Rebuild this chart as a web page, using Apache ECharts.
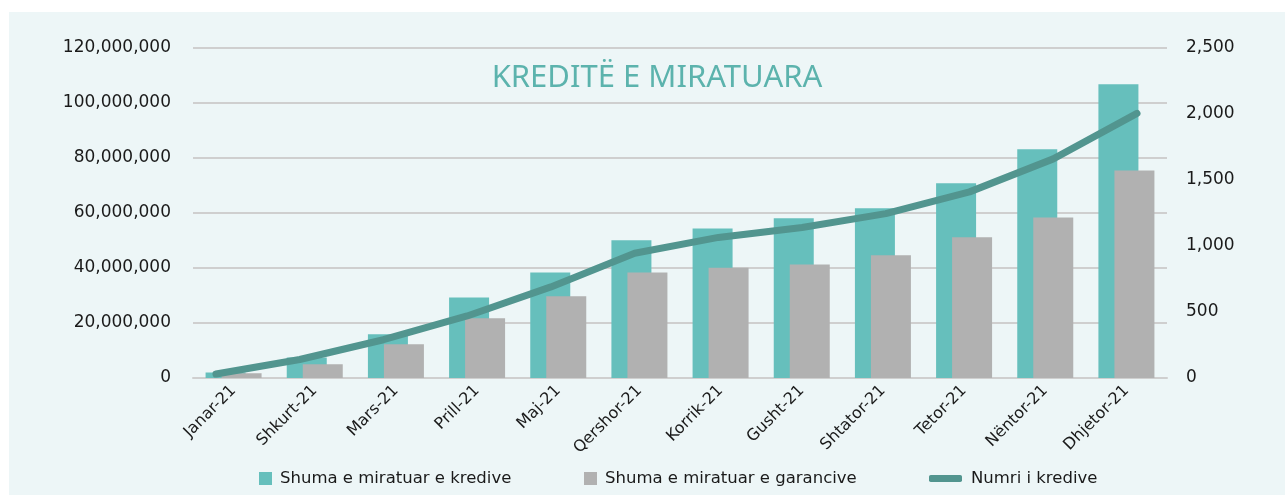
<!DOCTYPE html>
<html lang="sq">
<head>
    <meta charset="UTF-8">
    <title>Kreditë e miratuara</title>
    <style>
        html, body {
            margin: 0;
            padding: 0;
            background: #ffffff;
        }
    </style>
</head>
<body>
<script src="https://cdn.jsdelivr.net/npm/echarts@6/dist/echarts.min.js"></script>
<div id="main" style="width: 1285px;height:495px;"></div>
<script>
    // te dhenat
    var muajt = ['Janar-21', 'Shkurt-21', 'Mars-21', 'Prill-21', 'Maj-21', 'Qershor-21',
        'Korrik-21', 'Gusht-21', 'Shtator-21', 'Tetor-21', 'Nëntor-21', 'Dhjetor-21'];
    var shumaKredive = [2000000, 7500000, 15900000, 29300000, 38400000, 50100000,
        54400000, 58100000, 61700000, 70800000, 83200000, 106800000];
    var shumaGarancive = [1700000, 5000000, 12300000, 21700000, 29700000, 38400000,
        40100000, 41300000, 44600000, 51200000, 58400000, 75500000];
    var numriKredive = [30, 140, 290, 470, 690, 945, 1065, 1140, 1245, 1410, 1660, 2005];

    var leftTicks = [0, 20000000, 40000000, 60000000, 80000000, 100000000, 120000000];
    var rightTicks = [0, 500, 1000, 1500, 2000, 2500];

    var emrat = ['Shuma e miratuar e kredive', 'Shuma e miratuar e garancive', 'Numri i kredive'];

    var fontFamily = 'DejaVu Sans';
    var withCommas = function (v) {
        return String(v).replace(/\B(?=(\d{3})+(?!\d))/g, ',');
    };

    var chart = echarts.init(document.getElementById('main'));

    var legendBase = function (left, name, w, h, icon, pad) {
        return {
            left: left,
            top: 465,
            itemWidth: w,
            itemHeight: h,
            icon: icon,
            data: [name],
            selectedMode: false,
            textStyle: {
                fontFamily: fontFamily,
                fontSize: 16.5,
                color: '#1a1a1a',
                padding: [0, 0, 0, pad]
            }
        };
    };

    var option = {
        backgroundColor: '#ffffff',
        animation: false,
        graphic: [{
            type: 'rect',
            z: -10,
            silent: true,
            shape: {x: 9, y: 12, width: 1280, height: 490},
            style: {fill: '#EDF6F7'}
        }],
        title: {
            text: 'KREDITË E MIRATUARA',
            left: 652,
            top: 58,
            textAlign: 'center',
            textStyle: {
                fontFamily: 'Noto Sans',
                fontSize: 31,
                fontWeight: 'normal',
                color: '#5CB3AD'
            }
        },
        legend: [
            legendBase(254, emrat[0], 13, 13, 'rect', 3),
            legendBase(579, emrat[1], 13, 13, 'rect', 3),
            legendBase(924, emrat[2], 33, 7, 'roundRect', 4)
        ],
        grid: [
            {left: 193, right: 118, top: 48, bottom: 117},
            {left: 216, right: 148, top: 48, bottom: 117}
        ],
        xAxis: [
            {
                type: 'category',
                gridIndex: 0,
                data: muajt,
                axisLine: {lineStyle: {color: '#CFCFCF', width: 2}},
                axisTick: {show: false},
                axisLabel: {
                    rotate: 45,
                    margin: 10,
                    interval: 0,
                    fontFamily: fontFamily,
                    fontSize: 16,
                    color: '#1a1a1a'
                }
            },
            {
                type: 'category',
                gridIndex: 1,
                data: muajt,
                boundaryGap: false,
                show: false
            }
        ],
        yAxis: [
            {
                type: 'value',
                gridIndex: 0,
                min: leftTicks[0],
                max: leftTicks[leftTicks.length - 1],
                interval: leftTicks[1] - leftTicks[0],
                axisLine: {show: false},
                axisTick: {show: false},
                splitLine: {lineStyle: {color: '#CFCFCF', width: 2}},
                axisLabel: {
                    margin: 22,
                    fontFamily: fontFamily,
                    fontSize: 17,
                    color: '#1a1a1a',
                    formatter: withCommas
                }
            },
            {
                type: 'value',
                gridIndex: 0,
                position: 'right',
                min: rightTicks[0],
                max: rightTicks[rightTicks.length - 1],
                interval: rightTicks[1] - rightTicks[0],
                axisLine: {show: false},
                axisTick: {show: false},
                splitLine: {show: false},
                axisLabel: {
                    margin: 19,
                    fontFamily: fontFamily,
                    fontSize: 17,
                    color: '#1a1a1a',
                    formatter: withCommas
                }
            },
            {
                type: 'value',
                gridIndex: 1,
                min: rightTicks[0],
                max: rightTicks[rightTicks.length - 1],
                show: false
            }
        ],
        series: [
            {
                name: emrat[0],
                type: 'bar',
                xAxisIndex: 0,
                yAxisIndex: 0,
                barWidth: 40,
                barGap: '-60%',
                itemStyle: {color: '#66BFBC'},
                data: shumaKredive
            },
            {
                name: emrat[1],
                type: 'bar',
                xAxisIndex: 0,
                yAxisIndex: 0,
                barWidth: 40,
                barGap: '-60%',
                itemStyle: {color: '#B1B1B1'},
                data: shumaGarancive
            },
            {
                name: emrat[2],
                type: 'line',
                xAxisIndex: 1,
                yAxisIndex: 2,
                symbol: 'none',
                color: '#52958F',
                lineStyle: {color: '#52958F', width: 7, cap: 'round', join: 'round'},
                itemStyle: {color: '#52958F'},
                z: 5,
                data: numriKredive
            }
        ]
    };

    chart.setOption(option);
</script>
</body>
</html>
